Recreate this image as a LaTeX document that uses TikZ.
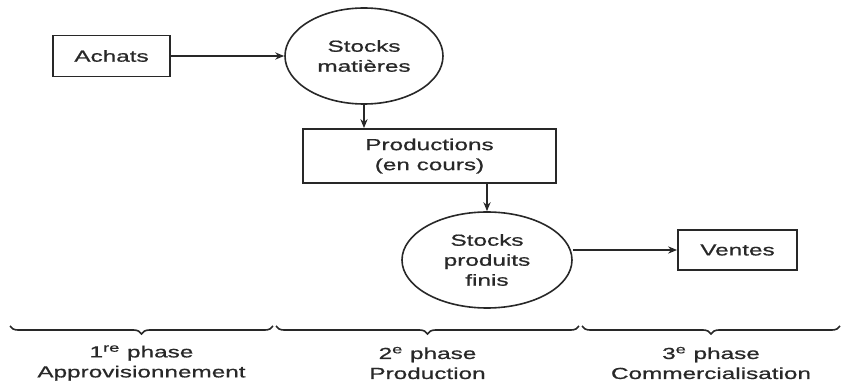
\documentclass[tikz,border=0pt]{standalone}
\usepackage{fontspec}
\setmainfont[FakeStretch=1.52,FakeBold=0.8]{Liberation Sans}
\usepackage{xcolor}
\usepackage{tikz}
\usetikzlibrary{arrows.meta,positioning,shapes.geometric,decorations.pathreplacing}

\definecolor{ink}{RGB}{40,40,40}

\tikzset{
  box/.style={draw=ink, line width=0.9pt, text=ink, align=center, inner sep=0pt},
  stock/.style={draw=ink, line width=0.8pt, ellipse, text=ink, align=center, inner sep=0pt},
  flow/.style={draw=ink, line width=0.7pt, -{Stealth[length=4.5pt,width=3.6pt]}},
  phase/.style={draw=ink, line width=0.8pt, decorate, decoration={brace, mirror, amplitude=4pt}},
  phaselabel/.style={text=ink, align=center, inner sep=0pt}
}

\begin{document}
\begin{tikzpicture}[x=0.5pt, y=-0.5pt, font=\fontsize{8}{10}\selectfont]
\useasboundingbox (0,0) rectangle (842,385);
% flux
\node[box, minimum width=58.5pt, minimum height=20.5pt] (achats) at (111.5,56) {Achats};
\node[stock, minimum width=79pt, minimum height=48pt] (sm) at (364,56) {Stocks\\mati\`eres};
\node[box, minimum width=126.5pt, minimum height=27pt] (prod) at (429.5,156) {Productions\\(en cours)};
\node[stock, minimum width=85pt, minimum height=48pt] (sf) at (487,260) {Stocks\\produits\\finis};
\node[box, minimum width=59.5pt, minimum height=20pt] (ventes) at (737.5,250) {Ventes};
\draw[flow] (achats) -- (sm);
\draw[flow] (sm.south) -- (sm.south |- prod.north);
\draw[flow] (sf.north |- prod.south) -- (sf.north);
\draw[flow] (sf.east |- ventes) -- (ventes);
% phases
\foreach \a/\b/\n in {10/273/p1, 276/579/p2, 582/840/p3} {
  \coordinate (\n) at ({(\a+\b)/2},363);
  \draw[phase] (\a,326) -- (\b,326);
}
\node[phaselabel] (l1) at (p1) {1\textsuperscript{re} phase\\Approvisionnement};
\node[phaselabel] (l2) at (p2) {2\textsuperscript{e} phase\\Production};
\node[phaselabel] (l3) at (p3) {3\textsuperscript{e} phase\\Commercialisation};
\end{tikzpicture}
\end{document}
